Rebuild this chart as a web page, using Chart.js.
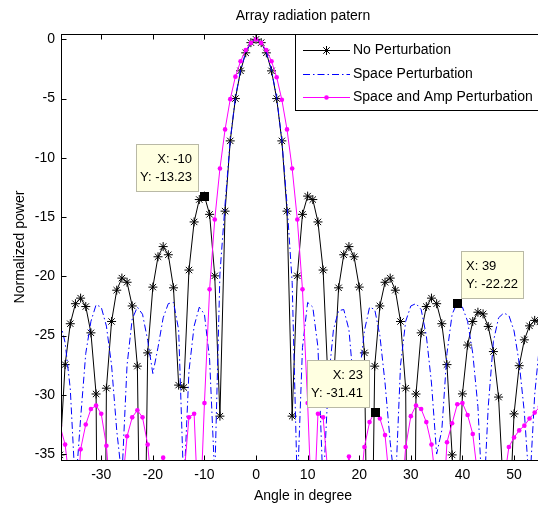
<!DOCTYPE html>
<html>
<head>
<meta charset="utf-8">
<script src="https://cdn.jsdelivr.net/npm/chart.js@4.4.1/dist/chart.umd.min.js"></script>
<style>
  html, body { margin: 0; padding: 0; overflow: hidden; background: #fff; }
  #wrap { width: 560px; height: 506px; }
</style>
</head>
<body>
<div id="wrap"><canvas id="pattern" width="560" height="506"></canvas></div>
<script>
// angle in degree, one sample per degree
const angles = [-38, -37, -36, -35, -34, -33, -32, -31, -30, -29, -28, -27, -26, -25, -24, -23, -22, -21, -20, -19,
  -18, -17, -16, -15, -14, -13, -12, -11, -10, -9, -8, -7, -6, -5, -4, -3, -2, -1, 0,
  1, 2, 3, 4, 5, 6, 7, 8, 9, 10, 11, 12, 13, 14, 15, 16, 17, 18, 19, 20,
  21, 22, 23, 24, 25, 26, 27, 28, 29, 30, 31, 32, 33, 34, 35, 36, 37, 38, 39, 40,
  41, 42, 43, 44, 45, 46, 47, 48, 49, 50, 51, 52, 53, 54, 55];

const noPert = [-35.07, -27.45, -24.00, -22.31, -21.84, -22.55, -24.77, -29.93, -90, -29.44, -23.81, -21.17, -20.15, -20.50, -22.50, -27.58, -59.1, -26.46, -20.91, -18.35,
  -17.49, -18.18, -20.97, -29.18, -29.38, -19.47, -15.41, -13.52, -13.23, -14.77, -19.96, -31.8, -14.5, -8.57, -5.00, -2.66, -1.14, -0.28, 0,
  -0.28, -1.14, -2.66, -5.00, -8.57, -14.5, -31.8, -19.96, -14.77, -13.23, -13.52, -15.41, -19.47, -29.38, -29.18, -20.97, -18.18, -17.49, -18.35, -20.91,
  -26.46, -59.1, -27.58, -22.50, -20.50, -20.15, -21.17, -23.81, -29.44, -90, -29.93, -24.77, -22.55, -21.84, -22.31, -24.00, -27.45, -35.07, -41.82, -29.92,
  -25.80, -23.81, -23.03, -23.17, -24.23, -26.35, -30.19, -38.67, -41.97, -31.61, -27.54, -25.36, -24.18, -23.72, -23.85];

const spacePert = [-23.8, -25.6, -29.5, -38, -32, -26.5, -23.8, -22.4, -22.6, -24.2, -27.5, -33, -37, -27.5, -23.6, -22.6, -23.2, -25.4, -28.2, -26,
  -23.5, -22.3, -22.2, -24.5, -38, -28, -24.2, -22.6, -23.2, -27, -37, -19.8, -13.9, -8.5, -4.9, -2.6, -1.1, -0.27, 0,
  -0.27, -1.1, -2.6, -4.9, -8.5, -13.9, -20.5, -38, -26, -22.2, -22.6, -26, -38, -29, -24.5, -22.9, -22.8, -24.5, -29.5, -28.5,
  -24.6, -22.6, -22.8, -25, -29, -34, -38, -27.5, -23.8, -22.5, -22.3, -22.8, -25, -29, -35, -33, -26.5, -23.2, -22.22, -22.6,
  -23.8, -26.5, -31, -40, -31, -25.5, -23.5, -23.1, -23.3, -24.6, -27.3, -31.5, -38, -30, -25.5];

const ampPert = [-32.6, -34.2, -38, -42, -34.6, -32.5, -31.2, -30.9, -31.6, -34.3, -40, -36, -38, -33.5, -31.9, -31.3, -31.9, -34.2, -39, -38,
  -35.3, -38, -45, -41, -37, -31.9, -31.6, -42, -30.7, -21.1, -15.2, -10.9, -7.6, -5.05, -3.15, -1.85, -0.9, -0.3, 0,
  -0.3, -0.9, -1.85, -3.2, -5.1, -7.6, -10.9, -15.2, -21.1, -30.7, -42, -31.6, -31.9, -37, -41, -45, -38, -35.2, -38, -39,
  -34.4, -32.3, -31.41, -32.0, -33.4, -38, -36, -40, -34.4, -31.8, -30.9, -31.2, -32.3, -34.2, -38, -42, -34.0, -32.4, -30.8, -30.7,
  -31.7, -33.3, -37, -42, -45, -43, -40, -37.5, -34.4, -33.6, -33.0, -32.6, -32.0, -31.5, -31.0];

const seriesNames = ['No Perturbation', 'Space Perturbation', 'Space and Amp Perturbation'];
const xTicks = [-30, -20, -10, 0, 10, 20, 30, 40, 50];
const yTicks = [0, -5, -10, -15, -20, -25, -30, -35];

// data tips
const tipX = [-10, 23, 39];
const tipY = [-13.23, -31.41, -22.22];
const tipSide = ['left', 'left', 'right'];

const FAMILY = '"Liberation Sans", Arial, sans-serif';
const FONT = '14px ' + FAMILY;
const TIP_FONT = '13px ' + FAMILY;
Chart.defaults.font.family = FAMILY;
Chart.defaults.font.size = 14;
Chart.defaults.color = '#000';

const pts = vals => angles.map((a, i) => ({ x: a, y: vals[i] }));

function drawStar(ctx, x, y, r) {
  ctx.beginPath();
  ctx.moveTo(x - r, y); ctx.lineTo(x + r, y);
  ctx.moveTo(x, y - r); ctx.lineTo(x, y + r);
  const d = r * 0.72;
  ctx.moveTo(x - d, y - d); ctx.lineTo(x + d, y + d);
  ctx.moveTo(x - d, y + d); ctx.lineTo(x + d, y - d);
  ctx.stroke();
}

const frame = {
  id: 'frame',
  afterDraw(chart) {
    const { ctx, chartArea: a, scales: { x, y } } = chart;
    ctx.save();
    ctx.strokeStyle = '#000';
    ctx.lineWidth = 1;
    const L = Math.round(a.left) + 0.5, R = Math.round(a.right) + 0.5;
    const T = Math.round(a.top) + 0.5, B = Math.round(a.bottom) + 0.5;
    ctx.strokeRect(L, T, R - L, B - T);

    // inward ticks
    ctx.beginPath();
    xTicks.forEach(v => {
      const px = Math.round(x.getPixelForValue(v)) + 0.5;
      ctx.moveTo(px, B); ctx.lineTo(px, B - 5);
      ctx.moveTo(px, T); ctx.lineTo(px, T + 5);
    });
    yTicks.forEach(v => {
      const py = Math.round(y.getPixelForValue(v)) + 0.5;
      ctx.moveTo(L, py); ctx.lineTo(L + 5, py);
      ctx.moveTo(R, py); ctx.lineTo(R - 5, py);
    });
    ctx.stroke();

    // titles
    ctx.fillStyle = '#000';
    ctx.font = FONT;
    ctx.textAlign = 'center';
    ctx.textBaseline = 'middle';
    const cx = (a.left + a.right) / 2;
    ctx.fillText('Array radiation patern', cx, 16);
    ctx.fillText('Angle in degree', cx, 496);
    ctx.save();
    ctx.translate(20, (a.top + a.bottom) / 2);
    ctx.rotate(-Math.PI / 2);
    ctx.fillText('Normalized power', 0, 0);
    ctx.restore();

    // legend
    const lx = 295, ly = 34, lw = 255, lh = 76;
    ctx.fillStyle = '#fff';
    ctx.fillRect(lx, ly, lw, lh);
    ctx.strokeRect(lx + 0.5, ly + 0.5, lw, lh);
    const rows = [50, 74, 97];
    rows.forEach((ry, i) => {
      const yy = ry + 0.5;
      ctx.beginPath();
      ctx.lineWidth = 1;
      if (i === 0) { ctx.strokeStyle = '#000'; ctx.setLineDash([]); }
      if (i === 1) { ctx.strokeStyle = '#0000ff'; ctx.setLineDash([7, 3, 1.5, 3]); }
      if (i === 2) { ctx.strokeStyle = '#ff00ff'; ctx.setLineDash([]); }
      ctx.moveTo(303, yy); ctx.lineTo(350, yy);
      ctx.stroke();
      ctx.setLineDash([]);
      if (i === 0) drawStar(ctx, 326.5, yy, 4.5);
      if (i === 2) {
        ctx.fillStyle = '#ff00ff';
        ctx.beginPath(); ctx.arc(326.5, yy, 2.3, 0, Math.PI * 2); ctx.fill();
      }
      ctx.fillStyle = '#000';
      ctx.textAlign = 'left';
      ctx.fillText(seriesNames[i], 353, ry);
    });

    // data tips
    ctx.font = TIP_FONT;
    tipX.forEach((tx, i) => {
      const px = x.getPixelForValue(tx), py = y.getPixelForValue(tipY[i]);
      const w = 62, h = 47;
      const bx = tipSide[i] === 'left' ? Math.round(px - 6 - w) : Math.round(px + 4);
      const by = Math.round(py - 5 - h);
      ctx.fillStyle = '#ffffe1';
      ctx.fillRect(bx, by, w, h);
      ctx.strokeStyle = '#b9b9a6';
      ctx.strokeRect(bx + 0.5, by + 0.5, w, h);
      ctx.fillStyle = '#000';
      ctx.textAlign = tipSide[i] === 'left' ? 'right' : 'left';
      const tx0 = tipSide[i] === 'left' ? bx + w - 6 : bx + 5;
      ctx.fillText('X: ' + tx, tx0, by + 15);
      ctx.fillText('Y: ' + tipY[i].toFixed(2), tx0, by + 33);
      ctx.fillRect(Math.round(px) - 4, Math.round(py) - 4, 9, 9);
    });
    ctx.restore();
  }
};

new Chart(document.getElementById('pattern'), {
  type: 'line',
  data: {
    datasets: [
      {
        label: seriesNames[0], data: pts(noPert), borderColor: '#000', borderWidth: 1,
        pointStyle: 'star', pointRadius: 4.5, pointBorderColor: '#000', pointBorderWidth: 1, order: 2
      },
      {
        label: seriesNames[1], data: pts(spacePert), borderColor: '#0000ff', borderWidth: 1,
        borderDash: [7, 3, 1.5, 3], pointRadius: 0, order: 1
      },
      {
        label: seriesNames[2], data: pts(ampPert), borderColor: '#ff00ff', borderWidth: 1,
        pointStyle: 'circle', pointRadius: 2.3, pointBackgroundColor: '#ff00ff', pointBorderColor: '#ff00ff',
        pointBorderWidth: 0, order: 0
      }
    ]
  },
  options: {
    responsive: false,
    animation: false,
    events: [],
    layout: { padding: { top: 34, right: 15, left: 0, bottom: 0 } },
    plugins: { legend: { display: false }, tooltip: { enabled: false } },
    scales: {
      x: {
        type: 'linear', min: -37.8, max: 56,
        afterBuildTicks: s => { s.ticks = xTicks.map(v => ({ value: v })); },
        afterFit: s => { s.height = 46; },
        grid: { display: false, drawTicks: false },
        border: { display: false },
        ticks: { padding: 7, maxRotation: 0, autoSkip: false }
      },
      y: {
        type: 'linear', min: -35.5, max: 0.45,
        afterBuildTicks: s => { s.ticks = yTicks.map(v => ({ value: v })); },
        afterFit: s => { s.width = 61; },
        grid: { display: false, drawTicks: false },
        border: { display: false },
        ticks: { padding: 6, autoSkip: false }
      }
    }
  },
  plugins: [frame]
});
</script>
</body>
</html>
